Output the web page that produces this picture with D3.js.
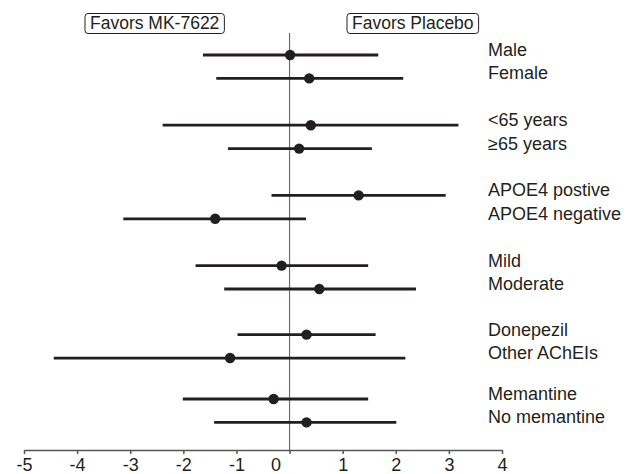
<!DOCTYPE html>
<html>
<head>
<meta charset="utf-8">
<script src="https://cdn.jsdelivr.net/npm/d3@7"></script>
<style>
  html, body { margin: 0; padding: 0; background: #fff; }
  svg { display: block; }
  text { font-family: "Liberation Sans", Arial, Helvetica, sans-serif; fill: #231f20; }
</style>
</head>
<body>
<svg id="chart" width="639" height="474"></svg>
<script>
// ---- data ----
const subgroups = ["Male", "Female", "<65 years", "\u226565 years", "APOE4 postive", "APOE4 negative",
                   "Mild", "Moderate", "Donepezil", "Other AChEIs", "Memantine", "No memantine"];
const rowPos    = [0, 1, 3, 4, 6, 7, 9, 10, 11.95, 12.95, 14.7, 15.7];
const estimate  = [0.01, 0.37, 0.40, 0.18, 1.30, -1.40, -0.15, 0.56, 0.32, -1.12, -0.30, 0.32];
const lower     = [-1.63, -1.38, -2.39, -1.16, -0.34, -3.13, -1.77, -1.23, -0.98, -4.44, -2.01, -1.42];
const upper     = [1.67, 2.14, 3.18, 1.55, 2.94, 0.31, 1.48, 2.38, 1.62, 2.18, 1.48, 2.01];
const tickValues = [-5, -4, -3, -2, -1, 0, 1, 2, 3, 4];
const tickLabels = ["-5", "-4", "-3", "-2", "-1", "0", "1", "2", "3", "4"];
const headers = ["Favors MK-7622", "Favors Placebo"];

const rows = subgroups.map((s, i) => ({ label: s, pos: rowPos[i], est: estimate[i], lo: lower[i], hi: upper[i] }));

// ---- layout ----
const svg = d3.select("#chart");
const x = d3.scaleLinear().domain([-5, 4]).range([24, 502]);
const y = d3.scaleLinear().domain([0, 1]).range([55, 78.4]);
const axisY = 450;
const ink = "#231f20";

// reference line at 0
svg.append("line")
  .attr("x1", x(0)).attr("x2", x(0))
  .attr("y1", 33).attr("y2", axisY)
  .attr("stroke", "#6d6d6d").attr("stroke-width", 1.2);

// axis
const axis = d3.axisBottom(x)
  .tickValues(tickValues)
  .tickSize(4)
  .tickSizeOuter(0)
  .tickFormat((d, i) => tickLabels[i]);
const gAxis = svg.append("g").attr("transform", `translate(0,${axisY})`).call(axis);
gAxis.select(".domain").attr("stroke", "#555").attr("stroke-width", 1.5);
gAxis.selectAll(".tick line").attr("stroke", "#555").attr("stroke-width", 1.5);
gAxis.selectAll(".tick text")
  .attr("font-size", 18)
  .attr("fill", ink)
  .attr("y", 8)
  .attr("dx", d => d === 0 ? -14 : 0)
  .style("font-family", '"Liberation Sans", Arial, sans-serif');

// CI lines
svg.append("g").selectAll("line")
  .data(rows).join("line")
  .attr("x1", d => x(d.lo)).attr("x2", d => x(d.hi))
  .attr("y1", d => y(d.pos)).attr("y2", d => y(d.pos))
  .attr("stroke", ink).attr("stroke-width", 2.8);

// points
svg.append("g").selectAll("circle")
  .data(rows).join("circle")
  .attr("cx", d => x(d.est)).attr("cy", d => y(d.pos))
  .attr("r", 5.2)
  .attr("fill", ink);

// labels
svg.append("g").selectAll("text")
  .data(rows).join("text")
  .attr("x", 488)
  .attr("y", d => y(d.pos) + 1)
  .attr("font-size", 18)
  .text(d => d.label);

// header boxes
const headerX = [90, 352];
headers.forEach((h, i) => {
  const g = svg.append("g");
  const t = g.append("text")
    .attr("x", headerX[i]).attr("y", 29)
    .attr("font-size", 17.5)
    .text(h);
  const bb = t.node().getBBox();
  g.insert("rect", "text")
    .attr("x", bb.x - 5).attr("y", 13.5)
    .attr("width", bb.width + 10).attr("height", 20)
    .attr("rx", 3).attr("ry", 3)
    .attr("fill", "#fff").attr("stroke", ink).attr("stroke-width", 1);
});
</script>
</body>
</html>
